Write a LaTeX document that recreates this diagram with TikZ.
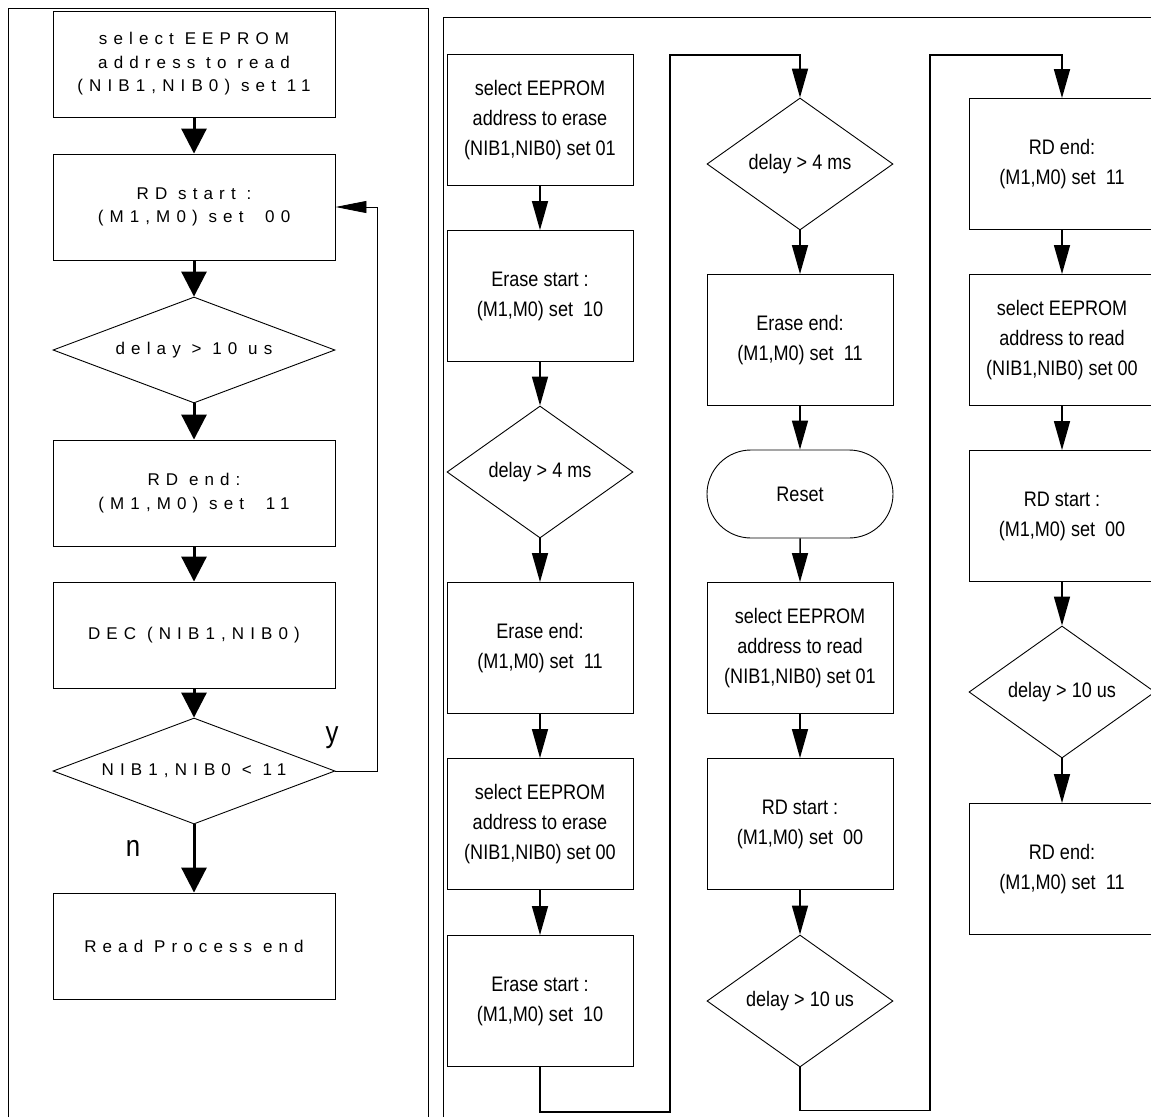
\documentclass[tikz,border=0pt]{standalone}
\usepackage{fontspec}
\usetikzlibrary{arrows.meta,shapes.geometric,shapes.misc}
\newfontfamily\spacedfont[LetterSpace=36]{Liberation Sans}
\newfontfamily\narrowfont[FakeStretch=0.86]{Liberation Sans}

\tikzset{
  lbox/.style={draw, line width=0.9pt, inner sep=0pt, minimum width=282pt, minimum height=106pt,
    align=center, font=\spacedfont\fontsize{17}{23.5}\selectfont},
  ldia/.style={lbox, diamond, aspect=2.66},
  rbox/.style={draw, line width=0.9pt, inner sep=0pt, minimum width=186pt, minimum height=131pt,
    align=center, font=\narrowfont\fontsize{21}{30}\selectfont},
  rdia/.style={rbox, diamond, aspect=1.41, minimum height=132pt},
  rterm/.style={rbox, rounded rectangle, minimum height=88pt},
  bigarrow/.style={line width=3pt, -{Triangle[length=25pt,width=25pt]}},
  smallarrow/.style={line width=1.5pt, -{Triangle[length=29pt,width=16pt]}},
  backarrow/.style={line width=0.9pt, -{Triangle[length=31pt,width=12pt]}},
  link/.style={line width=1.8pt, -{Triangle[length=29pt,width=16pt]}},
  yn/.style={font=\narrowfont\fontsize{30}{30}\selectfont, inner sep=0pt},
}

\begin{document}
\begin{tikzpicture}[x=1pt,y=-1pt]
  \useasboundingbox (0,0) rectangle (1151,1117);

  % panel frames
  \draw[line width=1pt] (8,1117) |- (428,8) -- (428,1117);
  \draw[line width=1pt] (443,1117) |- (1151,17);

  % read process
  \node[lbox] (sel11) at (194,64) {select EEPROM\\address to read\\(NIB1,NIB0) set 11};
  \node[lbox] (rdst) at (194,207) {RD start :\\(M1,M0) set\ \ 00};
  \node[ldia] (dly10) at (194,350) {delay > 10 us};
  \node[lbox] (rdend) at (194,493) {RD end:\\(M1,M0) set\ \ 11};
  \node[lbox] (dec) at (194,635) {DEC (NIB1,NIB0)};
  \node[ldia] (cmp) at (194,771) {NIB1,NIB0 < 11};
  \node[lbox] (rpend) at (194,946) {Read Process end};
  \node[yn] (ylab) at (332,738) {y};
  \node[yn] (nlab) at (133,848) {n};
  \coordinate (loopR) at (377,207);

  \draw[bigarrow] (sel11) -- (rdst);
  \draw[bigarrow] (rdst) -- (dly10);
  \draw[bigarrow] (dly10) -- (rdend);
  \draw[bigarrow] (rdend) -- (dec);
  \draw[bigarrow] (dec) -- (cmp);
  \draw[bigarrow] (cmp) -- (rpend);
  \draw[backarrow] (cmp.east) -| (loopR) -- (rdst.east);

  % erase, first column
  \node[rbox] (selerase01) at (540,120) {select EEPROM\\address to erase\\(NIB1,NIB0) set 01};
  \node[rbox] (erst1) at (540,296) {Erase start :\\(M1,M0) set\ \ 10};
  \node[rdia] (dly4a) at (540,472) {delay > 4 ms};
  \node[rbox] (erend1) at (540,648) {Erase end:\\(M1,M0) set\ \ 11};
  \node[rbox] (selerase00) at (540,824) {select EEPROM\\address to erase\\(NIB1,NIB0) set 00};
  \node[rbox] (erst2) at (540,1001) {Erase start :\\(M1,M0) set\ \ 10};

  % second column
  \node[rdia] (dly4b) at (800,164) {delay > 4 ms};
  \node[rbox] (erend2) at (800,340) {Erase end:\\(M1,M0) set\ \ 11};
  \node[rterm] (reset) at (800,494) {Reset};
  \node[rbox] (selread01) at (800,648) {select EEPROM\\address to read\\(NIB1,NIB0) set 01};
  \node[rbox] (rdst2) at (800,824) {RD start :\\(M1,M0) set\ \ 00};
  \node[rdia] (dly10b) at (800,1001) {delay > 10 us};

  % third column
  \node[rbox] (rdend2) at (1062,164) {RD end:\\(M1,M0) set\ \ 11};
  \node[rbox] (selread00) at (1062,340) {select EEPROM\\address to read\\(NIB1,NIB0) set 00};
  \node[rbox] (rdst3) at (1062,516) {RD start :\\(M1,M0) set\ \ 00};
  \node[rdia] (dly10c) at (1062,692) {delay > 10 us};
  \node[rbox] (rdend3) at (1062,869) {RD end:\\(M1,M0) set\ \ 11};

  \coordinate (turnA) at (670,55);
  \coordinate (turnB) at (930,55);

  \draw[smallarrow] (selerase01) -- (erst1);
  \draw[smallarrow] (erst1) -- (dly4a);
  \draw[smallarrow] (dly4a) -- (erend1);
  \draw[smallarrow] (erend1) -- (selerase00);
  \draw[smallarrow] (selerase00) -- (erst2);
  \draw[link] (erst2.south) -- ++(0,45) -| (turnA) -| (dly4b.north);

  \draw[smallarrow] (dly4b) -- (erend2);
  \draw[smallarrow] (erend2) -- (reset);
  \draw[smallarrow] (reset) -- (selread01);
  \draw[smallarrow] (selread01) -- (rdst2);
  \draw[smallarrow] (rdst2) -- (dly10b);
  \draw[link] (dly10b.south) -- ++(0,43) -| (turnB) -| (rdend2.north);

  \draw[smallarrow] (rdend2) -- (selread00);
  \draw[smallarrow] (selread00) -- (rdst3);
  \draw[smallarrow] (rdst3) -- (dly10c);
  \draw[smallarrow] (dly10c) -- (rdend3);
\end{tikzpicture}
\end{document}
